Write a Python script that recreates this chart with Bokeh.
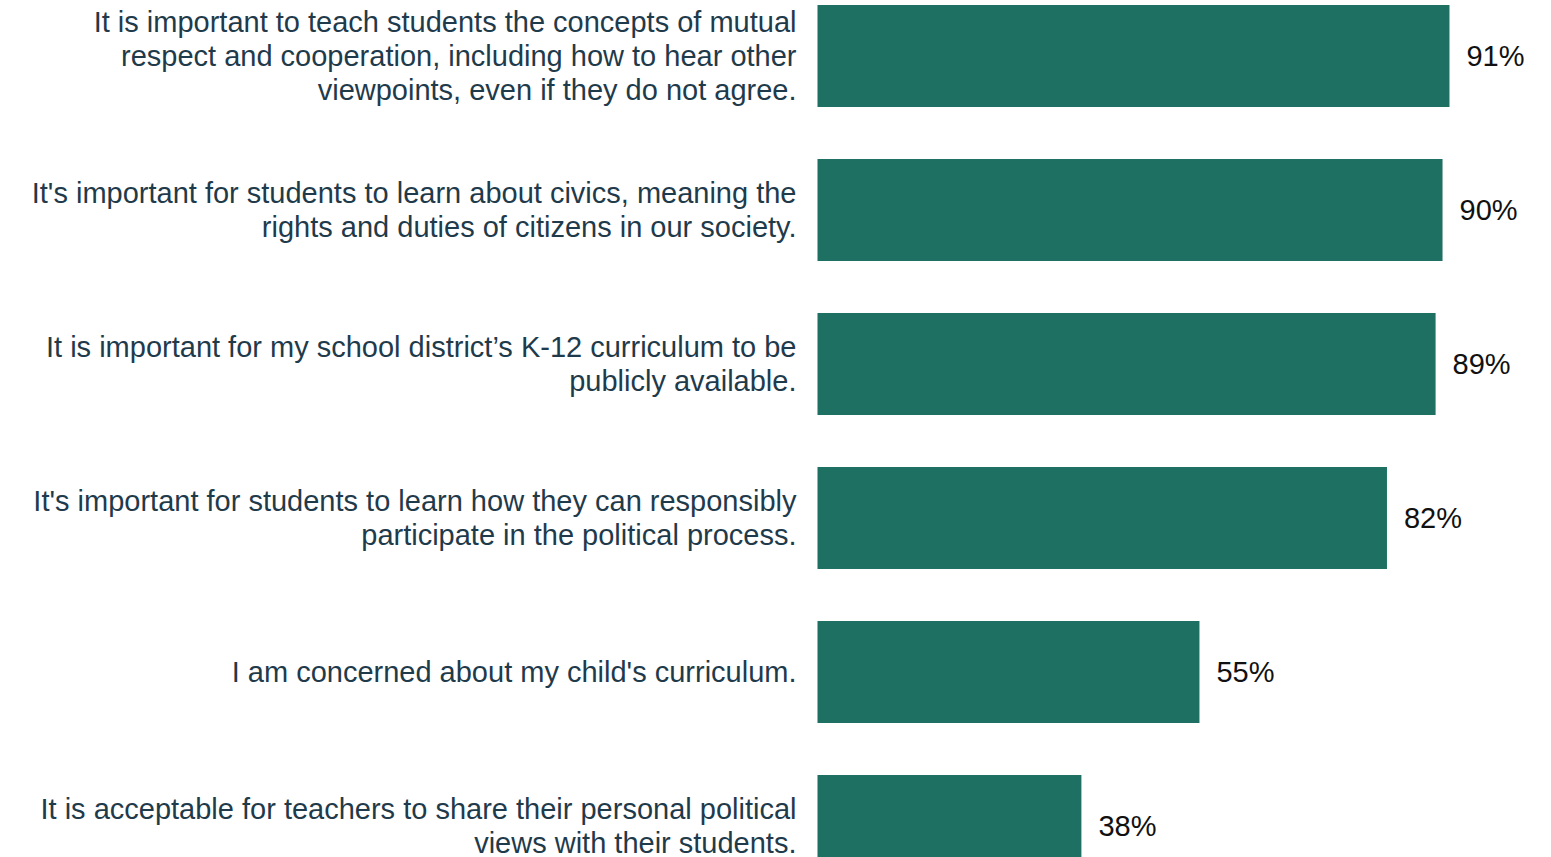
from bokeh.plotting import figure
from bokeh.models import Range1d, ColumnDataSource
from bokeh.core.properties import value
from bokeh.embed import file_html
from bokeh.resources import INLINE

statements = [
    "It is important to teach students the concepts of mutual\nrespect and cooperation, including how to hear other\nviewpoints, even if they do not agree.",
    "It's important for students to learn about civics, meaning the\nrights and duties of citizens in our society.",
    "It is important for my school district\u2019s K-12 curriculum to be\npublicly available.",
    "It's important for students to learn how they can responsibly\nparticipate in the political process.",
    "I am concerned about my child's curriculum.",
    "It is acceptable for teachers to share their personal political\nviews with their students.",
]
percent_agree = [91, 90, 89, 82, 55, 38]
pct_labels = [f"{v}%" for v in percent_agree]

pos = list(range(len(statements)))
src = ColumnDataSource(dict(y=pos, v=percent_agree, lab=statements, pct=pct_labels,
                            zero=[0] * len(pos)))

W, H = 1551, 857
p = figure(width=W, height=H, output_backend="svg", toolbar_location=None,
           x_range=Range1d(-117.64, 105.69), y_range=Range1d(5.205, -0.360),
           min_border=0, min_border_left=0, min_border_right=0,
           min_border_top=0, min_border_bottom=0)
p.axis.visible = False
p.grid.visible = False
p.outline_line_color = None
p.background_fill_color = "white"
p.border_fill_color = "white"

p.hbar(y="y", right="v", left=0, height=0.662, source=src,
       fill_color="#1E7063", line_color=None)

p.text(x="zero", y="y", text="lab", source=src, x_offset=-21,
       text_align="right", text_baseline="middle",
       text_font=value("Liberation Sans"), text_font_size="29px",
       text_line_height=1.06, text_color="#1F3B4B")

p.text(x="v", y="y", text="pct", source=src, x_offset=17,
       text_align="left", text_baseline="middle",
       text_font=value("Liberation Sans"), text_font_size="29px",
       text_color="#111111")

open("out.html", "w").write(file_html(p, INLINE))
